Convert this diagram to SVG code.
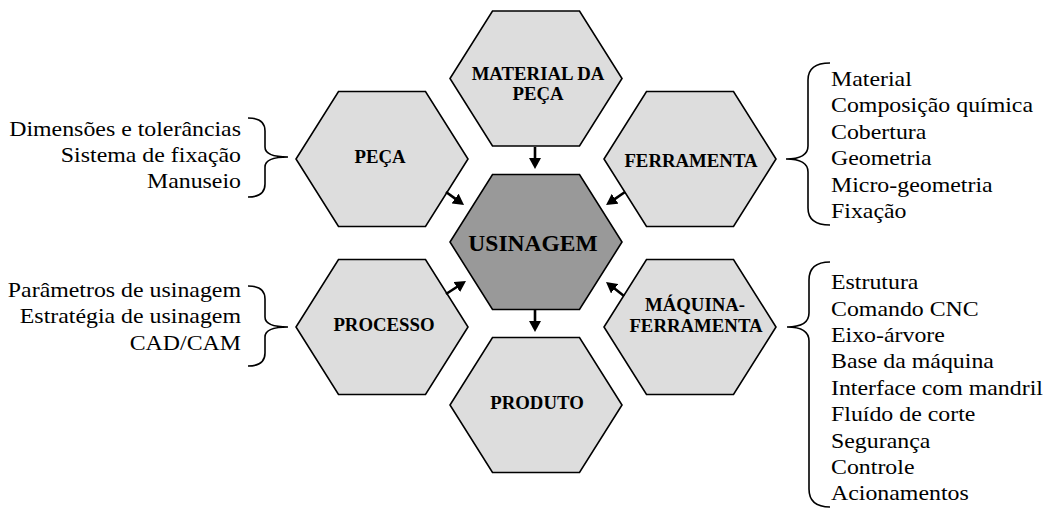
<svg xmlns="http://www.w3.org/2000/svg" width="1047" height="508" viewBox="0 0 1047 508">
  <style>
    .hex { fill: #dddddd; stroke: #000; stroke-width: 1.6; stroke-linejoin: miter; }
    .hexc { fill: #999999; stroke: #000; stroke-width: 1.6; }
    .lbl { font-family: "Liberation Serif", "Times New Roman", serif; font-weight: bold; font-size: 18.8px; fill: #000; text-anchor: middle; }
    .big { font-family: "Liberation Serif", "Times New Roman", serif; font-weight: bold; font-size: 23.5px; fill: #000; text-anchor: middle; }
    .lst { font-family: "Liberation Serif", "Times New Roman", serif; font-size: 21.3px; fill: #000; }
    .brace { fill: none; stroke: #000; stroke-width: 1.6; }
    .arr { stroke: #000; stroke-width: 2.6; fill: none; marker-end: url(#ah); }
  </style>
  <defs>
    <marker id="ah" markerUnits="userSpaceOnUse" markerWidth="11" markerHeight="12" refX="1" refY="6" orient="auto">
      <path d="M0,0 L11,6 L0,12 z" fill="#000"/>
    </marker>
  </defs>
  <rect width="1047" height="508" fill="#fff"/>

  <g id="node-material">
    <polygon class="hex" points="492.5,11 579.5,11 622,78.5 579.5,146 492.5,146 450,78.5"/>
    <text class="lbl" x="538" y="80">MATERIAL DA</text>
    <text class="lbl" x="538" y="100">PEÇA</text>
  </g>
  <g id="node-peca">
    <polygon class="hex" points="338.5,91.5 425.5,91.5 468,159 425.5,226.5 338.5,226.5 296,159"/>
    <text class="lbl" x="380" y="163">PEÇA</text>
  </g>
  <g id="node-ferramenta">
    <polygon class="hex" points="646.5,91.5 733.5,91.5 776,159 733.5,226.5 646.5,226.5 604,159"/>
    <text class="lbl" x="691" y="167">FERRAMENTA</text>
  </g>
  <g id="node-usinagem">
    <polygon class="hexc" points="492.5,174.5 579.5,174.5 622,242 579.5,309.5 492.5,309.5 450,242"/>
    <text class="big" x="533" y="251">USINAGEM</text>
  </g>
  <g id="node-processo">
    <polygon class="hex" points="338.5,259.5 425.5,259.5 468,327 425.5,394.5 338.5,394.5 296,327"/>
    <text class="lbl" x="384" y="331">PROCESSO</text>
  </g>
  <g id="node-maquina">
    <polygon class="hex" points="646.5,259.5 733.5,259.5 776,327 733.5,394.5 646.5,394.5 604,327"/>
    <text class="lbl" x="695" y="311">MÁQUINA-</text>
    <text class="lbl" x="696" y="332">FERRAMENTA</text>
  </g>
  <g id="node-produto">
    <polygon class="hex" points="492.5,337.5 579.5,337.5 622,405 579.5,472.5 492.5,472.5 450,405"/>
    <text class="lbl" x="537" y="409">PRODUTO</text>
  </g>

  <g id="connectors">
    <line class="arr" x1="535" y1="147" x2="535" y2="159"/>
    <line class="arr" x1="535" y1="310" x2="535" y2="322"/>
    <line class="arr" x1="446" y1="192" x2="455.9" y2="199.1"/>
    <line class="arr" x1="625" y1="192" x2="614.3" y2="199.4"/>
    <line class="arr" x1="446" y1="294" x2="457.6" y2="286.5"/>
    <line class="arr" x1="624" y1="296" x2="613.9" y2="288.1"/>
  </g>

  <g id="list-peca">
    <path class="brace" d="M248,118 Q265,118 265,131 L265,147 Q265,157 288,157 Q265,157 265,167 L265,184 Q265,197 248,197"/>
    <g transform="translate(241 0) scale(1.12 1)">
      <text class="lst" x="0" y="135.7" text-anchor="end">Dimensões e tolerâncias</text>
      <text class="lst" x="0" y="162" text-anchor="end">Sistema de fixação</text>
      <text class="lst" x="0" y="188.4" text-anchor="end">Manuseio</text>
    </g>
  </g>

  <g id="list-processo">
    <path class="brace" d="M248,286 Q265,286 265,299 L265,317 Q265,327 288,327 Q265,327 265,337 L265,353 Q265,366 248,366"/>
    <g transform="translate(241 0) scale(1.12 1)">
      <text class="lst" x="0" y="297" text-anchor="end">Parâmetros de usinagem</text>
      <text class="lst" x="0" y="323.4" text-anchor="end">Estratégia de usinagem</text>
      <text class="lst" x="0" y="349.8" text-anchor="end">CAD/CAM</text>
    </g>
  </g>

  <g id="list-ferramenta">
    <path class="brace" d="M830,63 Q808,63 808,80 L808,146 Q808,159 786,159 Q808,159 808,172 L808,208 Q808,225 830,225"/>
    <g transform="translate(831 0) scale(1.12 1)">
      <text class="lst" x="0" y="86">Material</text>
      <text class="lst" x="0" y="112.4">Composição química</text>
      <text class="lst" x="0" y="138.8">Cobertura</text>
      <text class="lst" x="0" y="165.2">Geometria</text>
      <text class="lst" x="0" y="191.6">Micro-geometria</text>
      <text class="lst" x="0" y="218">Fixação</text>
    </g>
  </g>

  <g id="list-maquina">
    <path class="brace" d="M830,262 Q809,262 809,280 L809,313 Q809,327 787,327 Q809,327 809,341 L809,489 Q809,507 830,507"/>
    <g transform="translate(831 0) scale(1.12 1)">
      <text class="lst" x="0" y="289.3">Estrutura</text>
      <text class="lst" x="0" y="315.7">Comando CNC</text>
      <text class="lst" x="0" y="342.1">Eixo-árvore</text>
      <text class="lst" x="0" y="368.5">Base da máquina</text>
      <text class="lst" x="0" y="394.9">Interface com mandril</text>
      <text class="lst" x="0" y="421.3">Fluído de corte</text>
      <text class="lst" x="0" y="447.7">Segurança</text>
      <text class="lst" x="0" y="474.1">Controle</text>
      <text class="lst" x="0" y="500.5">Acionamentos</text>
    </g>
  </g>
</svg>
